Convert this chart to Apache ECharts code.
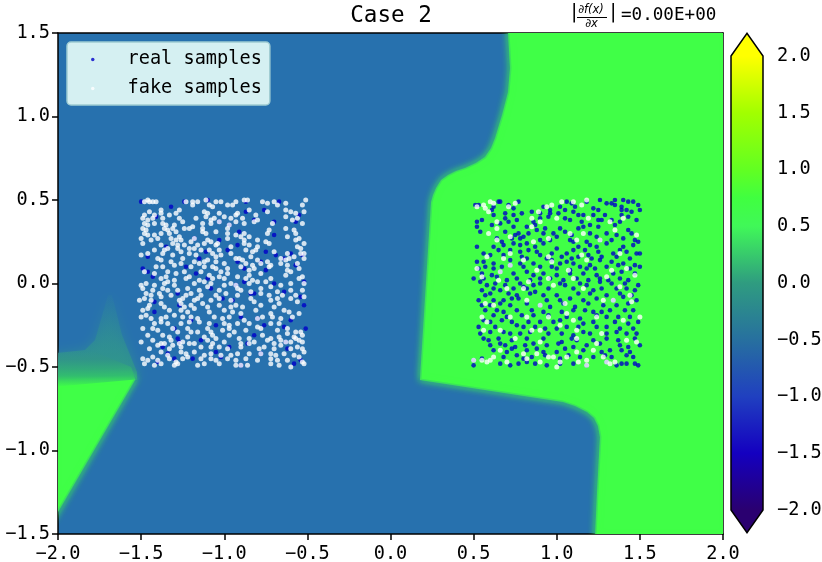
<!DOCTYPE html>
<html><head><meta charset="utf-8">
<style>html,body{margin:0;padding:0;background:#fff}#c{width:822px;height:562px}</style>
<script src="https://cdn.jsdelivr.net/npm/echarts@6/dist/echarts.min.js"></script>
</head><body><div id="c"></div>
<script>
const xTicks=[-2,-1.5,-1,-.5,0,.5,1,1.5,2];
const yTicks=[-1.5,-1,-.5,0,.5,1,1.5];
const barLevels=[2,1.5,1,.75,.5,0,-.5,-1,-1.5,-2];
const barColors=['#ffff00','#a2ff00','#62ff22','#40ff40','#40f858','#2f9c80','#27709f','#2040c0','#1400c0','#2a0070'];
const blueField='#2771ae';
const greenField='#40ff47';
const rightRegion=[[.707,1.52],[.707,1.5],[.719,1.29],[.707,1.147],[.671,1.009],[.629,.871],[.605,.811],[.568,.757],[.514,.722],[.448,.692],[.394,.674],[.346,.65],[.304,.62],[.274,.572],[.256,.53],[.244,.488],[.177,-.578],[1.038,-.71],[1.11,-.734],[1.182,-.77],[1.224,-.805],[1.248,-.853],[1.26,-.919],[1.242,-1.254],[1.23,-1.52],[2.03,-1.52],[2.03,1.52]];
const cornerRegion=[[-2.03,-.58],[-1.555,-.548],[-1.535,-.575],[-2.03,-1.42]];
const spikeRegion=[[-2.03,-.42],[-1.838,-.398],[-1.777,-.338],[-1.699,-.069],[-1.675,-.069],[-1.615,-.308],[-1.525,-.53],[-1.525,-.578],[-2.03,-.608]];
const bandRegion=[[-2.03,-.41],[-1.8,-.4],[-1.56,-.5],[-1.535,-.575],[-2.03,-.62]];

const fakeLeft=[[-1.48,.49],[-1.46,.5],[-1.45,.49],[-1.43,.49],[-1.41,.49],[-1.23,.49],[-1.19,.49],[-1.16,.49],[-1.11,.5],[-1.05,.49],[-1.02,.49],[-.98,.47],[-.95,.47],[-.93,.49],[-.88,.5],[-.86,.5],[-.77,.49],[-.74,.48],[-.7,.49],[-.68,.47],[-.63,.48],[-.53,.47],[-.51,.5],
[-1.19,.47],[-1.09,.47],[-1.07,.46],[-1.48,.41],[-1.45,.43],[-1.42,.41],[-1.38,.44],[-1.29,.42],[-1.27,.44],[-1.12,.43],[-1.1,.42],[-1.03,.42],[-1,.4],[-.93,.41],[-.92,.42],[-.85,.44],[-.81,.41],[-.74,.43],[-.63,.44],[-.6,.43],[-.57,.42],[-.52,.43],
[-1.49,.39],[-1.46,.38],[-1.43,.39],[-1.38,.42],[-1.37,.39],[-1.33,.41],[-1.27,.39],[-1.17,.39],[-1.11,.4],[-1.08,.38],[-1.06,.39],[-.96,.39],[-.93,.37],[-.89,.39],[-.8,.38],[-.63,.4],[-.59,.38],[-.56,.39],
[-1.48,.36],[-1.46,.35],[-1.42,.36],[-1.37,.36],[-1.35,.35],[-1.3,.35],[-1.25,.37],[-1.19,.34],[-1.13,.36],[-1.08,.36],[-1.03,.37],[-.97,.35],[-.88,.36],[-.82,.37],[-.71,.36],[-.53,.36],
[-1.49,.33],[-1.47,.32],[-1.36,.33],[-1.34,.32],[-1.31,.33],[-1.29,.31],[-1.24,.33],[-1.21,.33],[-1.13,.33],[-1.05,.31],[-.98,.33],[-.73,.32],[-.63,.33],[-.58,.32],
[-1.48,.3],[-1.46,.29],[-1.42,.29],[-1.38,.3],[-1.33,.3],[-1.27,.28],[-1.13,.31],[-1.11,.3],[-.98,.3],[-.93,.29],[-.9,.28],[-.88,.3],[-.85,.28],[-.74,.3],[-.62,.28],[-.57,.3],
[-1.5,.27],[-1.44,.26],[-1.4,.27],[-1.32,.27],[-1.29,.26],[-1.26,.26],[-1.2,.25],[-1.18,.27],[-1.1,.26],[-1.08,.25],[-1.04,.24],[-.98,.27],[-.88,.26],[-.8,.26],[-.75,.25],[-.57,.26],[-.55,.27],[-.52,.24],
[-1.49,.24],[-1.38,.23],[-1.31,.24],[-1.28,.23],[-1.24,.23],[-1.21,.21],[-1.16,.23],[-1.12,.24],[-1.05,.23],[-.96,.22],[-.88,.24],[-.85,.23],[-.8,.22],[-.73,.24],[-.56,.22],[-.54,.21],
[-1.42,.2],[-1.36,.2],[-1.34,.21],[-1.28,.21],[-1.26,.19],[-1.18,.21],[-1.14,.2],[-1.09,.2],[-1.07,.18],[-1.03,.2],[-.96,.18],[-.87,.2],[-.83,.19],[-.81,.2],[-.7,.19],[-.62,.18],[-.54,.18],
[-1.5,.17],[-1.46,.18],[-1.37,.18],[-1.31,.17],[-1.25,.15],[-1.21,.18],[-1.17,.17],[-1.05,.16],[-1.02,.17],[-.93,.15],[-.91,.15],[-.89,.14],[-.84,.16],[-.8,.14],[-.66,.15],[-.63,.14],[-.61,.15],[-.58,.16],[-.52,.18],[-.52,.15],
[-1.4,.15],[-1.38,.14],[-1.32,.13],[-1.26,.12],[-1.18,.13],[-1.15,.12],[-1.12,.13],[-1.1,.14],[-1.05,.13],[-1,.12],[-.87,.12],[-.83,.11],[-.78,.12],[-.74,.13],[-.72,.11],[-.66,.12],[-.62,.11],[-.56,.12],
[-1.41,.1],[-1.37,.1],[-1.3,.11],[-1.2,.1],[-1.12,.1],[-1.07,.1],[-1.05,.09],[-.98,.09],[-.9,.1],[-.85,.08],[-.82,.09],[-.73,.1],[-.62,.08],[-.55,.09],
[-1.48,.07],[-1.42,.06],[-1.34,.07],[-1.29,.06],[-1.24,.07],[-1.14,.07],[-1.09,.05],[-1.02,.07],[-.98,.06],[-.85,.05],[-.78,.06],[-.63,.05],[-.6,.07],
[-1.38,.03],[-1.35,.04],[-1.3,.02],[-1.23,.03],[-1.21,.04],[-1.15,.02],[-1.07,.03],[-1.03,.04],[-1,.03],[-.92,.04],[-.87,.03],[-.83,.02],[-.72,.03],[-.55,.03],[-.53,.04],
[-1.5,-.01],[-1.47,.0],[-1.42,-.01],[-1.36,.0],[-1.34,.01],[-1.3,-.01],[-1.18,.0],[-1.12,.01],[-1.08,.0],[-1,-.01],[-.96,.0],[-.93,-.01],[-.85,.0],[-.8,.01],[-.75,.01],[-.66,-.01],[-.6,.0],[-.52,.0],
[-1.49,-.03],[-1.43,-.04],[-1.37,-.03],[-1.34,-.04],[-1.28,-.04],[-1.22,-.03],[-1.15,-.04],[-1.1,-.02],[-1.03,-.04],[-.92,-.03],[-.9,-.04],[-.84,-.05],[-.78,-.03],[-.72,-.02],[-.68,-.05],[-.6,-.04],[-.53,-.04],
[-1.47,-.06],[-1.44,-.07],[-1.39,-.06],[-1.32,-.07],[-1.23,-.07],[-1.2,-.06],[-1.14,-.07],[-1.05,-.07],[-.99,-.06],[-.92,-.07],[-.78,-.06],[-.73,-.07],[-.65,-.07],[-.57,-.07],[-.52,-.08],
[-1.51,-.1],[-1.48,-.09],[-1.44,-.1],[-1.38,-.08],[-1.27,-.1],[-1.25,-.09],[-1.18,-.1],[-1.16,-.09],[-1.08,-.1],[-1.03,-.09],[-.96,-.1],[-.84,-.09],[-.82,-.11],[-.72,-.1],[-.68,-.09],[-.6,-.09],[-.56,-.11],
[-1.45,-.13],[-1.38,-.12],[-1.36,-.14],[-1.26,-.12],[-1.24,-.14],[-1.2,-.13],[-1.13,-.12],[-1.1,-.14],[-1.03,-.13],[-.96,-.14],[-.93,-.13],[-.89,-.14],[-.78,-.13],[-.7,-.14],[-.67,-.12],
[-1.49,-.16],[-1.46,-.15],[-1.33,-.16],[-1.26,-.16],[-1.22,-.17],[-1.18,-.15],[-1.09,-.17],[-1,-.16],[-.95,-.17],[-.9,-.18],[-.81,-.16],[-.72,-.18],[-.64,-.16],[-.61,-.17],
[-1.5,-.2],[-1.47,-.19],[-1.44,-.21],[-1.38,-.21],[-1.35,-.2],[-1.3,-.19],[-1.25,-.2],[-1.2,-.2],[-1.16,-.21],[-1.06,-.2],[-1.01,-.21],[-.97,-.2],[-.88,-.22],[-.8,-.21],[-.77,-.2],[-.71,-.2],[-.66,-.21],[-.59,-.2],[-.55,-.18],
[-1.42,-.24],[-1.38,-.23],[-1.34,-.24],[-1.26,-.24],[-1.21,-.23],[-1.15,-.23],[-1.09,-.24],[-1,-.24],[-.97,-.25],[-.92,-.24],[-.85,-.24],[-.8,-.26],[-.72,-.24],[-.67,-.24],
[-1.49,-.27],[-1.43,-.27],[-1.4,-.28],[-1.31,-.27],[-1.28,-.29],[-1.22,-.27],[-1.2,-.29],[-1.16,-.29],[-1.1,-.27],[-1.08,-.29],[-1.01,-.28],[-.97,-.27],[-.94,-.29],[-.87,-.28],[-.78,-.27],[-.68,-.28],[-.62,-.27],[-.57,-.29],[-.54,-.29],
[-1.46,-.31],[-1.37,-.31],[-1.33,-.32],[-1.22,-.32],[-1.12,-.32],[-1.07,-.31],[-1.05,-.33],[-.97,-.31],[-.91,-.33],[-.85,-.33],[-.77,-.31],[-.72,-.33],[-.67,-.32],[-.62,-.3],[-.58,-.32],[-.53,-.31],
[-1.5,-.35],[-1.43,-.34],[-1.38,-.36],[-1.36,-.36],[-1.32,-.34],[-1.27,-.36],[-1.25,-.35],[-1.18,-.36],[-1.1,-.34],[-1.07,-.36],[-1,-.35],[-.9,-.36],[-.85,-.36],[-.82,-.35],[-.74,-.34],[-.7,-.36],[-.66,-.34],[-.63,-.35],[-.6,-.35],[-.57,-.33],[-.55,-.34],[-.53,-.35],
[-1.45,-.39],[-1.4,-.37],[-1.33,-.39],[-1.31,-.37],[-1.26,-.38],[-1.21,-.36],[-1.14,-.38],[-1.08,-.38],[-1.03,-.38],[-.98,-.39],[-.9,-.38],[-.79,-.39],[-.76,-.38],[-.7,-.39],[-.66,-.37],[-.6,-.39],[-.56,-.38],[-.53,-.39],
[-1.38,-.41],[-1.34,-.43],[-1.26,-.41],[-1.23,-.42],[-1.18,-.41],[-1.12,-.43],[-1.08,-.42],[-1.02,-.43],[-.96,-.43],[-.92,-.42],[-.85,-.42],[-.78,-.42],[-.72,-.42],[-.69,-.43],[-.64,-.42],[-.58,-.43],[-.52,-.41],
[-1.49,-.45],[-1.46,-.46],[-1.43,-.44],[-1.4,-.46],[-1.33,-.45],[-1.29,-.47],[-1.25,-.45],[-1.22,-.44],[-1.14,-.45],[-1.08,-.45],[-1.05,-.46],[-.98,-.45],[-.93,-.46],[-.87,-.45],[-.8,-.46],[-.72,-.45],[-.68,-.46],[-.62,-.46],[-.55,-.44],[-.53,-.47],
[-1.48,-.48],[-1.42,-.49],[-1.38,-.48],[-1.3,-.49],[-1.28,-.48],[-1.16,-.49],[-1.12,-.48],[-1.03,-.48],[-.93,-.49],[-.9,-.49],[-.86,-.49],[-.72,-.48],[-.67,-.49],[-.6,-.5],[-.52,-.48]];
const realLeft=[[-1.5,.49],[-1.24,.49],[-1.1,.5],[-.87,.49],[-.67,.49],[-1.32,.46],[-.87,.43],[-.76,.44],[-.55,.41],[-1.41,.4],[-1.03,.37],[-.82,.38],[-.7,.37],[-.57,.37],[-.97,.35],[-.91,.31],[-1.18,.27],[-1.03,.26],[-.92,.23],[-.7,.29],[-1.35,.22],[-1.11,.19],[-.98,.2],[-.75,.19],[-.6,.18],[-.53,.17],[-1.46,.16],[-1.15,.15],[-.92,.13],[-.69,.17],[-.64,.15],[-1.49,.09],[-1.23,.1],[-.88,.09],[-.78,.13],[-.57,.11],[-1.46,.07],[-1.17,.06],[-.75,.08],[-1.43,.04],[-1.1,.03],[-.88,.01],[-.7,.0],[-.52,.01],[-1.28,-.06],[-1.08,-.03],[-.93,-.01],[-.82,-.06],[-.64,-.05],[-.54,-.08],[-1.42,-.11],[-1.27,-.13],[-1.01,-.09],[-.95,-.1],[-.84,-.06],[-.52,-.13],[-1.42,-.17],[-1.2,-.22],[-.9,-.2],[-.8,-.21],[-.6,-.22],[-1.3,-.27],[-1.05,-.25],[-.76,-.25],[-.64,-.26],[-.51,-.27],[-1.28,-.33],[-1.27,-.35],[-1.14,-.34],[-.86,-.36],[-.82,-.31],[-.63,-.35],[-1.34,-.42],[-1.37,-.38],[-1.05,-.41],[-.97,-.38],[-.78,-.42],[-.62,-.39],[-1.4,-.47],[-1.3,-.45],[-1.19,-.45],[-1.02,-.44],[-.9,-.49],[-.58,-.48],[-.54,-.46]];

const realRight=[[1.26,.5],[1.35,.5],[1.4,.5],[1.43,.49],[1.46,.49],[.65,.49],[.66,.49],[.77,.49],[1.06,.49],[1.09,.48],[1.18,.49],[.51,.47],[.53,.47],[.62,.46],[.71,.47],[.92,.46],[1.02,.46],[1.11,.46],[1.3,.48],[1.33,.48],[1.35,.47],[1.39,.46],[1.49,.47],
[.61,.44],[.74,.45],[.85,.43],[.96,.44],[1.05,.44],[1.1,.43],[1.22,.45],[1.25,.44],[1.39,.44],[1.42,.44],[1.45,.43],[1.5,.44],
[.62,.41],[.69,.42],[.74,.41],[.79,.42],[.9,.42],[.96,.42],[1.01,.42],[1.13,.41],[1.16,.41],[1.22,.41],[1.29,.41],[1.39,.41],[1.43,.4],
[.52,.37],[.55,.38],[.69,.39],[.71,.37],[.76,.38],[.86,.37],[.9,.39],[.95,.4],[1.05,.39],[1.08,.38],[1.15,.37],[1.25,.38],[1.27,.38],[1.33,.38],[1.38,.37],[1.48,.38],
[.52,.34],[.61,.35],[.66,.36],[.74,.34],[.82,.34],[.87,.35],[.93,.33],[1.02,.33],[1.13,.33],[1.16,.34],[1.2,.35],[1.25,.34],[1.35,.35],[1.43,.32],
[.54,.31],[.69,.31],[.75,.29],[.77,.3],[.83,.3],[.88,.32],[.92,.3],[.98,.3],[1.05,.31],[1.09,.29],[1.2,.3],[1.24,.28],[1.3,.3],[1.36,.29],[1.45,.3],
[.64,.27],[.67,.25],[.73,.27],[.78,.27],[.8,.28],[.9,.26],[.96,.26],[1,.28],[1.08,.26],[1.18,.25],[1.26,.26],[1.33,.26],[1.4,.27],[1.47,.26],[1.49,.25],
[.52,.22],[.62,.22],[.68,.23],[.74,.24],[.78,.23],[.82,.24],[.87,.22],[.92,.24],[1,.21],[1.1,.25],[1.13,.22],[1.2,.23],[1.24,.22],[1.3,.24],[1.4,.22],[1.46,.23],
[.56,.18],[.65,.2],[.72,.2],[.78,.19],[.83,.2],[.88,.19],[.97,.18],[1.06,.18],[1.1,.2],[1.17,.2],[1.25,.19],[1.34,.18],[1.38,.2],[1.42,.19],[1.48,.18],[1.5,.18],
[.6,.17],[.68,.17],[.79,.16],[.82,.15],[.9,.17],[.94,.15],[1.03,.16],[1.09,.15],[1.13,.16],[1.19,.17],[1.21,.15],[1.27,.16],[1.36,.16],[1.44,.15],
[.52,.13],[.56,.13],[.62,.12],[.72,.14],[.78,.12],[.86,.12],[.97,.14],[1.02,.12],[1.06,.13],[1.1,.12],[1.2,.11],[1.26,.14],[1.33,.13],[1.4,.12],[1.47,.11],
[.53,.09],[.57,.1],[.62,.09],[.67,.1],[.72,.11],[.8,.1],[.9,.1],[.97,.1],[1,.09],[1.08,.08],[1.14,.1],[1.18,.09],[1.23,.09],[1.3,.1],[1.37,.11],[1.44,.09],[1.5,.1],
[.55,.06],[.61,.05],[.66,.07],[.74,.06],[.82,.07],[.86,.05],[.92,.06],[1,.05],[1.08,.06],[1.16,.06],[1.24,.05],[1.34,.06],[1.39,.07],[1.47,.06],
[.5,.03],[.56,.03],[.64,.04],[.7,.02],[.76,.03],[.84,.02],[.9,.03],[.96,.03],[1.04,.02],[1.12,.03],[1.19,.02],[1.26,.03],[1.31,.02],[1.38,.03],[1.43,.02],
[.54,.01],[.58,-.01],[.63,.0],[.69,-.01],[.78,.0],[.86,-.01],[.9,.0],[1.02,.0],[1.05,-.01],[1.14,.0],[1.18,-.01],[1.26,.01],[1.33,.0],[1.41,.0],[1.49,-.01],
[.55,-.04],[.62,-.03],[.66,-.04],[.74,-.03],[.8,-.02],[.82,-.03],[.95,-.03],[1.1,-.03],[1.22,-.04],[1.27,-.03],[1.36,-.03],[1.42,-.03],[1.47,-.04],
[.57,-.07],[.6,-.06],[.71,-.06],[.76,-.07],[.84,-.06],[.87,-.05],[.92,-.07],[1,-.07],[1.13,-.06],[1.2,-.06],[1.3,-.07],[1.38,-.06],[1.45,-.07],
[.53,-.1],[.62,-.1],[.68,-.1],[.73,-.09],[.77,-.09],[.94,-.1],[1.02,-.1],[1.08,-.09],[1.16,-.1],[1.24,-.09],[1.34,-.1],[1.4,-.08],[1.48,-.1],
[.55,-.13],[.6,-.13],[.66,-.12],[.72,-.13],[.82,-.12],[.9,-.13],[.96,-.14],[1.04,-.12],[1.11,-.14],[1.19,-.12],[1.28,-.13],[1.36,-.13],[1.43,-.12],
[.57,-.16],[.64,-.16],[.68,-.17],[.76,-.16],[.85,-.16],[.92,-.17],[1.03,-.17],[1.1,-.16],[1.17,-.16],[1.22,-.17],[1.27,-.17],[1.32,-.16],[1.41,-.16],[1.46,-.16],
[.62,-.19],[.7,-.2],[.79,-.19],[.86,-.19],[.95,-.19],[1.06,-.2],[1.14,-.21],[1.24,-.19],[1.3,-.2],[1.37,-.2],[1.44,-.2],
[.56,-.22],[.6,-.23],[.67,-.22],[.73,-.23],[.83,-.23],[.9,-.23],[.98,-.23],[1.02,-.22],[1.16,-.24],[1.22,-.23],[1.35,-.23],[1.43,-.24],[1.49,-.23],
[.53,-.26],[.63,-.26],[.76,-.25],[.8,-.26],[.87,-.26],[.93,-.27],[1,-.27],[1.06,-.26],[1.13,-.26],[1.24,-.26],[1.3,-.26],[1.38,-.27],[1.46,-.27],
[.54,-.3],[.6,-.29],[.68,-.29],[.72,-.3],[.78,-.3],[.84,-.29],[.95,-.3],[1.03,-.3],[1.1,-.31],[1.16,-.29],[1.2,-.3],[1.3,-.3],[1.36,-.29],[1.42,-.3],[1.48,-.3],
[.56,-.33],[.59,-.34],[.65,-.33],[.73,-.34],[.82,-.33],[.92,-.33],[1.03,-.35],[1.09,-.33],[1.12,-.34],[1.22,-.34],[1.3,-.33],[1.37,-.34],[1.47,-.33],
[.6,-.37],[.66,-.36],[.69,-.37],[.75,-.38],[.81,-.37],[.86,-.36],[.94,-.37],[1.01,-.36],[1.1,-.38],[1.18,-.37],[1.26,-.36],[1.38,-.37],[1.43,-.38],[1.5,-.37],
[.62,-.4],[.7,-.41],[.73,-.39],[.82,-.4],[.88,-.39],[.92,-.41],[1,-.41],[1.05,-.39],[1.16,-.4],[1.27,-.41],[1.32,-.4],[1.39,-.4],[1.44,-.41],
[.5,-.46],[.55,-.45],[.68,-.44],[.76,-.43],[.8,-.45],[.85,-.44],[.93,-.43],[1.02,-.45],[1.07,-.43],[1.14,-.44],[1.22,-.44],[1.29,-.43],[1.33,-.44],[1.42,-.43],[1.46,-.44],
[.5,-.49],[.66,-.48],[.72,-.49],[.77,-.48],[.82,-.47],[.87,-.48],[.94,-.49],[1.02,-.48],[1.1,-.48],[1.18,-.49],[1.3,-.47],[1.36,-.49],[1.39,-.48],[1.42,-.48],[1.47,-.48],[1.49,-.49]];
const fakeRight=[[.52,.46],[.56,.47],[.57,.45],[.59,.43],[.6,.49],[.62,.48],[.71,.46],[.75,.48],[.94,.46],[.97,.47],[1.03,.49],[1.1,.49],[1.15,.47],[1.18,.5],[.64,.37],[.85,.39],[.89,.43],[.9,.37],[1,.39],[1.19,.39],[1.32,.37],[1.4,.39],[.59,.3],[.64,.33],[.72,.28],[.85,.34],[1.08,.3],[1.16,.3],[1.35,.32],[1.48,.29],[.64,.26],[.86,.25],[.95,.27],[1.12,.26],[1.26,.26],[.58,.16],[.68,.15],[.8,.14],[.72,.18],[.95,.16],[.97,.13],[1.15,.17],[1.18,.14],[1.38,.18],[.52,.09],[.55,.04],[.66,.07],[.72,.11],[.88,.08],[1.07,.08],[1.3,.04],[1.33,.08],[1.42,.09],[1.47,.05],[.65,.02],[.83,.01],[.95,.03],[1.1,.03],[.7,-.03],[.8,-.03],[.98,-.01],[1.16,-.03],[1.38,-.02],[1.44,-.07],[.57,-.12],[.62,-.13],[.82,-.1],[.9,-.13],[1.05,-.12],[1.28,-.1],[1.34,-.1],[1.45,-.11],[.55,-.2],[.58,-.23],[.72,-.2],[.82,-.2],[.95,-.2],[1.06,-.18],[1.1,-.22],[1.24,-.2],[1.4,-.22],[1.5,-.2],[.56,-.28],[.66,-.28],[.85,-.28],[.9,-.28],[1.02,-.25],[1.12,-.28],[1.27,-.3],[.75,-.33],[.9,-.35],[1.12,-.33],[1.24,-.36],[1.42,-.34],[1.48,-.35],[.66,-.4],[.8,-.42],[.95,-.44],[1.12,-.41],[1.22,-.4],[1.28,-.44],[.55,-.46],[.62,-.44],[.82,-.45],[.88,-.42],[.98,-.44],[1.06,-.44],[1.18,-.46],[1.3,-.47],[.5,-.46],[.58,-.47],[.6,-.46],[.7,-.47],[.9,-.47],[1,-.5],[1.02,-.47],[1.13,-.47],[1.18,-.49],[1.32,-.48],[1.35,-.47]];

const MONO='"DejaVu Sans Mono",monospace';
const chart=echarts.init(document.getElementById('c'),null,{renderer:'canvas'});
const fmt=v=>(v<0?'\u2212':'')+Math.abs(v).toFixed(1);
const G=echarts.graphic.LinearGradient;
const regions=[
 {pts:spikeRegion,color:new G(0,0,0,1,[{offset:0,color:'rgba(49,140,150,.12)'},{offset:.55,color:'rgba(49,150,140,.55)'},{offset:1,color:'rgba(49,160,130,.8)'}]),shadow:'rgb(49,150,140)',blur:12},
 {pts:cornerRegion,color:greenField,shadow:greenField,blur:7,soft:true},
 {pts:bandRegion,color:new G(0,0,0,1,[{offset:0,color:'rgba(49,145,140,0)'},{offset:.25,color:'rgba(49,150,135,.75)'},{offset:.7,color:'rgba(50,190,110,.95)'},{offset:1,color:greenField}]),shadow:null,blur:0},
 {pts:rightRegion,color:greenField,shadow:greenField,blur:7,soft:true}];
function regionItem(params,api){
 const r=regions[api.value(0)];
 const style={fill:r.color};
 if(r.blur){style.shadowBlur=r.blur;style.shadowColor=r.shadow;}
 if(r.soft){style.stroke='rgba(39,113,174,.2)';style.lineWidth=3;style.lineJoin='round';}
 return {type:'polygon',shape:{points:r.pts.map(p=>api.coord(p))},style};
}
function barItem(params,api){
 const L=api.coord([0,2])[0],R=api.coord([1,2])[0],T=api.coord([0,2])[1],B=api.coord([0,-2])[1];
 const tT=api.coord([0,2.2])[1],tB=api.coord([0,-2.2])[1],M=(L+R)/2;
 const stops=barLevels.map((v,i)=>({offset:(2-v)/4,color:barColors[i]}));
 return {type:'group',children:[
  {type:'rect',shape:{x:L,y:T,width:R-L,height:B-T},style:{fill:new G(0,0,0,1,stops)}},
  {type:'polygon',shape:{points:[[L,T],[M,tT],[R,T]]},style:{fill:barColors[0]}},
  {type:'polygon',shape:{points:[[L,B],[M,tB],[R,B]]},style:{fill:barColors[barColors.length-1]}},
  {type:'polygon',shape:{points:[[L,T],[M,tT],[R,T],[R,B],[M,tB],[L,B]]},style:{fill:'none',stroke:'#000',lineWidth:1.5}}
 ]};
}
const axisCommon={axisLine:{show:true,onZero:false,lineStyle:{color:'#000',width:1.5}},axisTick:{show:true,length:6,lineStyle:{color:'#000',width:1.5}},splitLine:{show:false},
 axisLabel:{fontFamily:MONO,fontSize:18.6,color:'#000',formatter:fmt,hideOverlap:false,showMinLabel:true,showMaxLabel:true}};
const bareAxis={axisLine:{show:true,onZero:false,lineStyle:{color:'#000',width:1.5}},axisTick:{show:false},axisLabel:{show:false},splitLine:{show:false}};
chart.setOption({
 animation:false,backgroundColor:'#fff',
 grid:[{left:58,top:33,width:665,height:501,show:true,backgroundColor:blueField,borderWidth:0,outerBoundsMode:'none',containLabel:false},
       {left:731,top:56,width:32,height:454,show:false,outerBoundsMode:'none',containLabel:false}],
 xAxis:[{type:'value',gridIndex:0,min:-2,max:2,interval:.5,position:'bottom',...axisCommon,axisLabel:{...axisCommon.axisLabel,margin:11}},
        {type:'value',gridIndex:0,min:-2,max:2,position:'top',...bareAxis},
        {type:'value',gridIndex:1,min:0,max:1,show:false}],
 yAxis:[{type:'value',gridIndex:0,min:-1.5,max:1.5,interval:.5,position:'left',...axisCommon,axisLabel:{...axisCommon.axisLabel,margin:8,padding:[2,0,0,0]}},
        {type:'value',gridIndex:0,min:-1.5,max:1.5,position:'right',...bareAxis},
        {type:'value',gridIndex:1,min:-2,max:2,interval:.5,position:'right',...axisCommon,axisLine:{show:false},axisLabel:{...axisCommon.axisLabel,margin:14,padding:[2,0,0,0]}}],
 legend:{orient:'vertical',left:67,top:42,padding:[8,8,7,24],itemWidth:3.5,itemHeight:3.5,itemGap:10,
  backgroundColor:'#d5f0f2',borderColor:'#9fccd2',borderWidth:1.5,borderRadius:4,
  data:['real samples','fake samples'],
  textStyle:{fontFamily:MONO,fontSize:18.6,color:'#000',lineHeight:18,padding:[0,0,0,28]}},
 title:{text:'Case 2',left:386,top:0,textAlign:'center',textStyle:{fontFamily:MONO,fontSize:22.6,fontWeight:'normal',color:'#000'}},
 series:[
  {type:'custom',xAxisIndex:0,yAxisIndex:0,clip:true,silent:true,z:1,renderItem:regionItem,data:regions.map((r,i)=>[i]),encode:{x:-1,y:-1}},
  {type:'custom',xAxisIndex:2,yAxisIndex:2,clip:false,silent:true,z:2,renderItem:barItem,data:[[0]],encode:{x:-1,y:-1}},
  {type:'scatter',name:'real samples',xAxisIndex:0,yAxisIndex:0,z:3,symbol:'circle',symbolSize:4.6,itemStyle:{color:'#0000c8'},data:realLeft.concat(realRight)},
  {type:'scatter',name:'fake samples',xAxisIndex:0,yAxisIndex:0,z:4,symbol:'circle',symbolSize:5,itemStyle:{color:'#fff'},data:fakeLeft.concat(fakeRight)}
 ],
 graphic:[
  {type:'text',left:571,top:4,z:10,style:{text:'|',font:'19px "DejaVu Sans"',fill:'#000'}},
  {type:'text',left:578,top:4,z:10,style:{text:'\u2202f(x)',font:'italic 11.5px "DejaVu Sans"',fill:'#000'}},
  {type:'rect',left:577,top:17,z:10,shape:{width:30,height:1},style:{fill:'#000'}},
  {type:'text',left:585,top:18,z:10,style:{text:'\u2202x',font:'italic 11.5px "DejaVu Sans"',fill:'#000'}},
  {type:'text',left:610,top:4,z:10,style:{text:'|',font:'19px "DejaVu Sans"',fill:'#000'}},
  {type:'text',left:621,top:6,z:10,style:{text:'=0.00E+00',font:'17.6px "DejaVu Sans Mono"',fill:'#000'}}
 ]
});
</script></body></html>
